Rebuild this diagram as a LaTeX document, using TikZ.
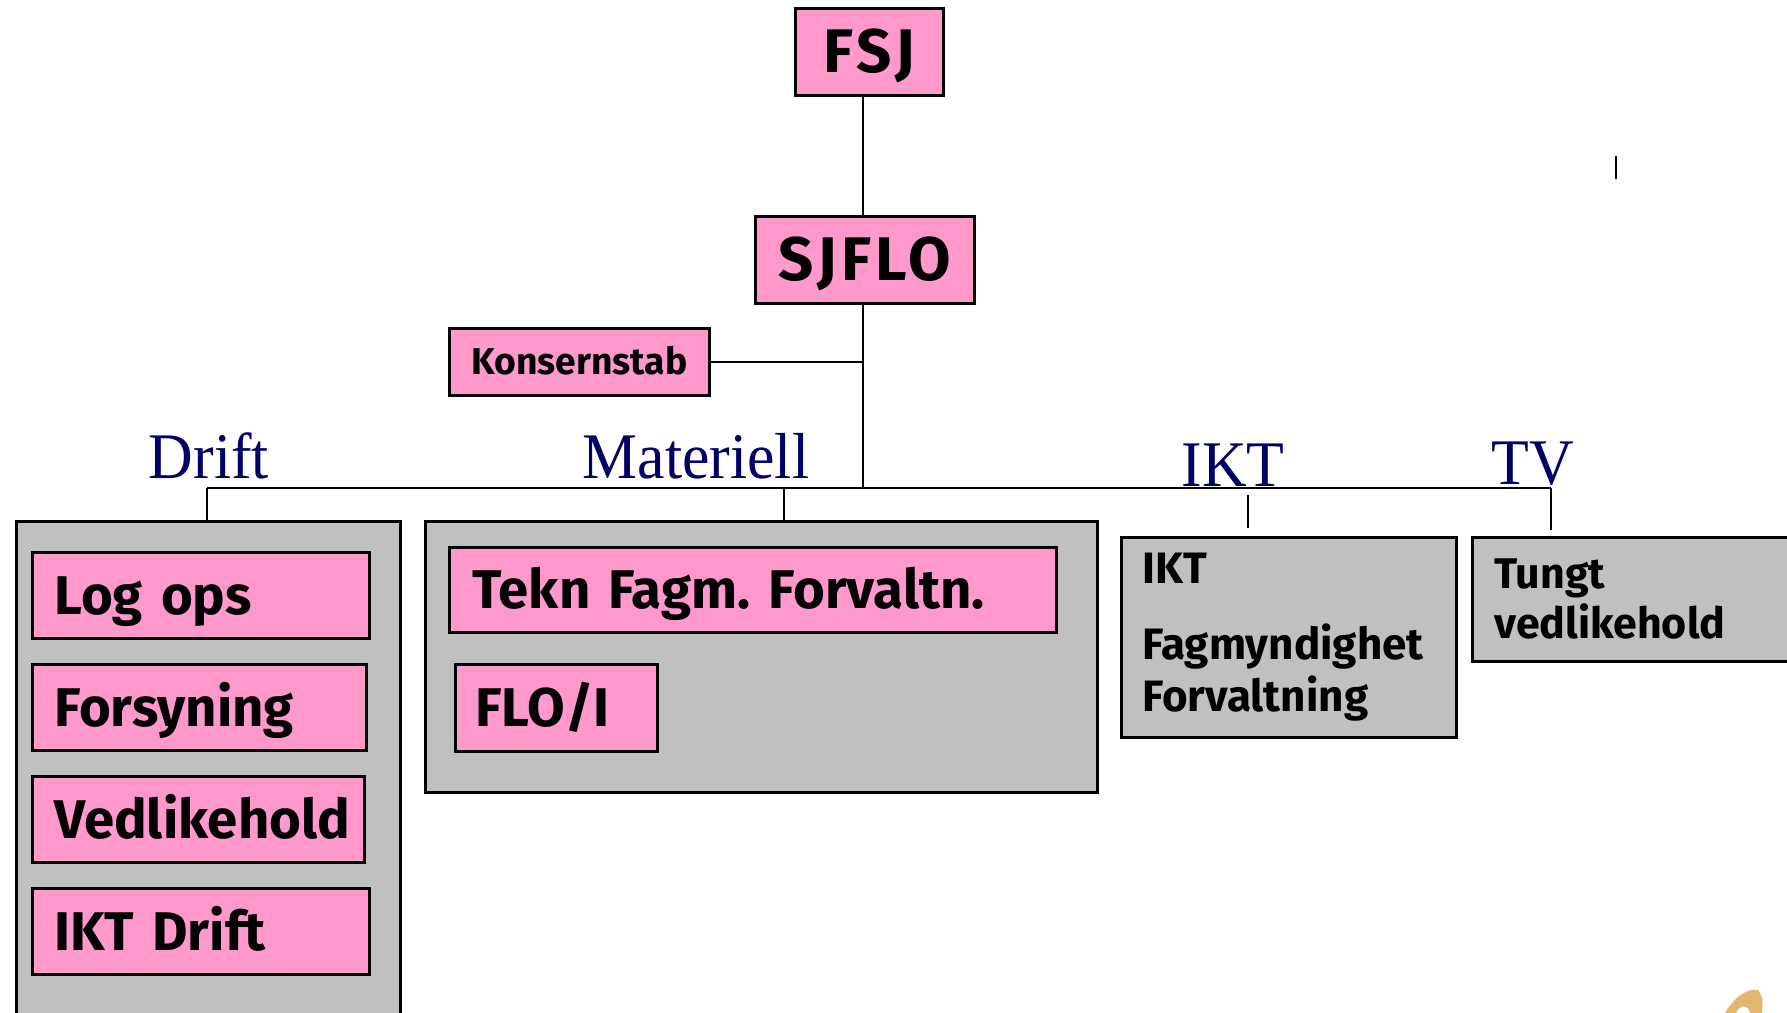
\documentclass[tikz,border=0pt]{standalone}
\usepackage{fontspec}
\setsansfont{Fira Sans}
\newfontfamily\lblfont{Liberation Serif}[FakeStretch=0.95]
\usetikzlibrary{calc}
\definecolor{orgpink}{RGB}{255,153,204}
\definecolor{orggray}{RGB}{192,192,192}
\definecolor{orgnavy}{RGB}{0,0,102}
\definecolor{logoorange}{RGB}{229,182,112}
\frenchspacing

\begin{document}
\begin{tikzpicture}[x=.01cm,y=-.01cm,
  unitbox/.style={draw,line width=.8pt,fill=orgpink,rectangle,anchor=north west,inner xsep=.22cm,inner ysep=0pt,align=left,text height=.38cm,text depth=0pt,font=\sffamily\bfseries\fontsize{15.5}{17}\selectfont},
  topbox/.style={unitbox,align=center,text height=.42cm,font=\sffamily\bfseries\fontsize{17.5}{19}\selectfont\addfontfeature{LetterSpace=7}},
  groupbox/.style={draw,line width=.8pt,fill=orggray,rectangle,anchor=north west,inner xsep=.21cm,inner ysep=0pt,align=left,font=\sffamily\bfseries\fontsize{12.5}{14.8}\selectfont},
  grouplabel/.style={text=orgnavy,anchor=base,inner sep=0pt,font=\lblfont\fontsize{18.5}{20}\selectfont},
  link/.style={line width=.6pt},
  drop/.style={line width=.45pt}]
\clip (0,0) rectangle (1787,1013);

% top of the tree
\node[topbox,minimum width=1.48cm,minimum height=.87cm] (fsj) at (794,7) {FSJ};
\node[topbox,minimum width=2.19cm,minimum height=.87cm,inner xsep=.1cm] (sjflo) at (754,215) {SJFLO};
\node[unitbox,align=center,minimum width=2.59cm,minimum height=.67cm,text height=.26cm,font=\sffamily\bfseries\fontsize{10.6}{13}\selectfont] (konsernstab) at (448,327) {Konsernstab};

\coordinate (bus) at (863,488);
\coordinate (dDrift) at (207,488);
\coordinate (dMat) at (784,488);
\coordinate (dIkt) at (1248,495);
\coordinate (dTv) at (1551,488);

\draw[link] (fsj.south -| bus) -- (sjflo.north -| bus);
\draw[link] (sjflo.south -| bus) -- (bus);
\draw[link] (konsernstab.east) -- (konsernstab.east -| bus);
\draw[link] (dDrift) -- (dTv);

% groups
\node[groupbox,minimum width=3.84cm,minimum height=5.1cm] (drift) at (15,520) {};
\node[groupbox,minimum width=6.72cm,minimum height=2.71cm] (materiell) at (424,520) {};
\node[groupbox,text width=2.93cm,minimum height=2.0cm] (ikt) at (1120,536) {IKT\\[6.8pt]Fagmyndighet\\Forvaltning};
\node[groupbox,text width=2.85cm,minimum height=1.24cm,inner xsep=.22cm,font=\sffamily\bfseries\fontsize{12.2}{14.2}\selectfont] (tv) at (1471,536) {Tungt\\vedlikehold};

\draw[drop] (dDrift) -- (dDrift |- drift.north);
\draw[drop] (dMat) -- (dMat |- materiell.north);
\draw[drop,shorten >=.08cm] (dIkt) -- (dIkt |- ikt.north);
\draw[drop,shorten >=.06cm] (dTv) -- (dTv |- tv.north);

\node[grouplabel] (lDrift) at (209,479) {Drift};
\node[grouplabel] (lMat) at (696,479) {Materiell};
\node[grouplabel] (lIkt) at (1233,487) {IKT};
\node[grouplabel] (lTv) at (1533,485) {TV};

% units
\foreach \n/\t/\y/\w in {logops/Log ops/551/2.93, forsyning/Forsyning/663/2.90, vedlikehold/Vedlikehold/775/2.88, iktdrift/IKT Drift/887/2.93}
  \node[unitbox,text width=\w cm,minimum height=.86cm] (\n) at (31,\y) {\t};

\node[unitbox,text width=5.61cm,inner xsep=.23cm,minimum height=.85cm] (tekn) at (448,546) {Tekn Fagm. Forvaltn.};
\node[unitbox,text width=1.62cm,inner xsep=.2cm,minimum height=.87cm] (floi) at (454,663) {FLO/I};

% stray mark and logo corner
\draw[line width=.5pt] (1616,156) -- (1616,179);
\fill[logoorange] (1725,1013) .. controls (1735,996) and (1748,988) .. (1758,990) .. controls (1763,998) .. (1762,1013) -- (1750,1013) .. controls (1748,1004) and (1740,1004) .. (1736,1013) -- cycle;
\end{tikzpicture}
\end{document}
